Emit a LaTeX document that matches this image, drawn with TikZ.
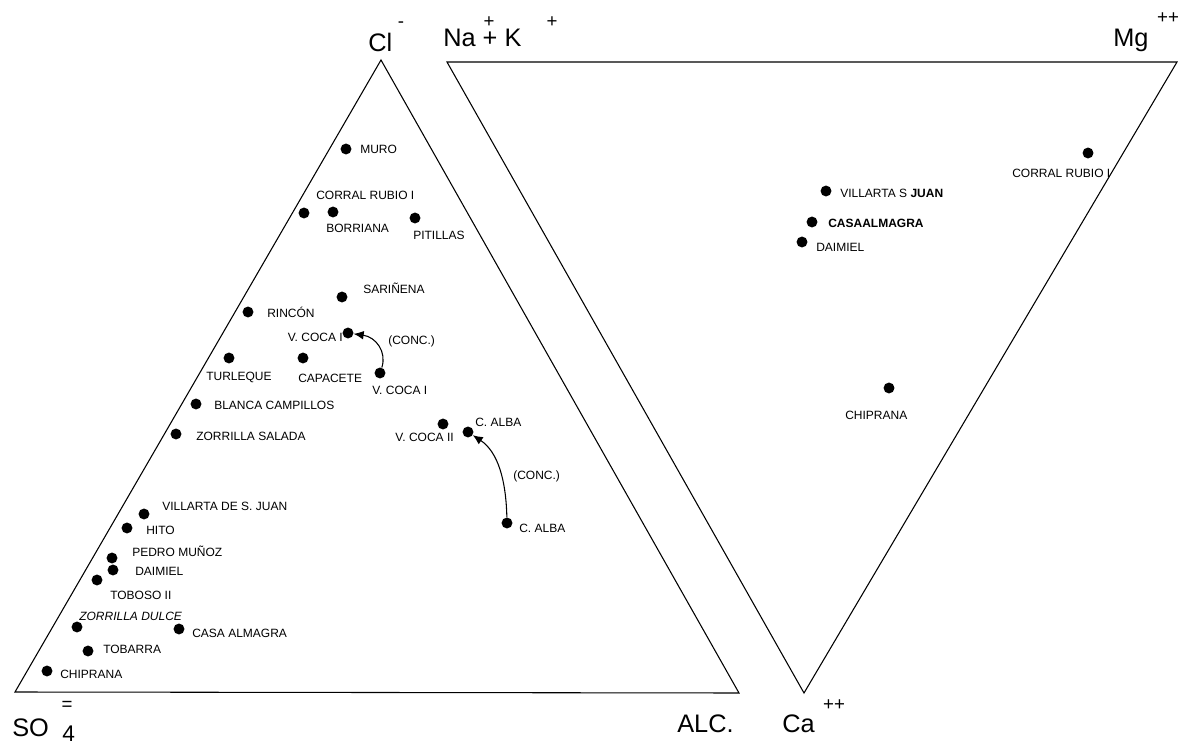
\documentclass[tikz,border=0pt]{standalone}
\usepackage{fontspec}
\setmainfont{Liberation Sans}
\usetikzlibrary{arrows.meta}
\begin{document}
\begin{tikzpicture}[x=0.75pt,y=-0.75pt,
  dot/.style={circle,fill=black,inner sep=0pt,minimum size=8.2pt},
  lab/.style={anchor=west,inner sep=0pt,font=\fontsize{9}{10}\selectfont},
  labe/.style={anchor=east,inner sep=0pt,font=\fontsize{9}{10}\selectfont},
  big/.style={anchor=base west,inner sep=0pt,font=\fontsize{19}{22}\selectfont},
  sup/.style={inner sep=0pt,font=\fontsize{14}{16}\selectfont},
  edge/.style={line width=0.8pt},
  conc/.style={line width=0.8pt,-{Latex[length=7.5pt,width=6.5pt]}}]
\useasboundingbox (0,0) rectangle (1182,741);
% triangles
\coordinate (A) at (381,60);
\coordinate (B) at (15,692);
\coordinate (C) at (739,693);
\draw[edge] (A) -- (B) -- (C) -- cycle;
\coordinate (D) at (447,62);
\coordinate (E) at (1177,62);
\coordinate (F) at (804,693);
\draw[edge] (D) -- (E) -- (F) -- cycle;
% vertex labels
\node[big] (lcl) at (368,52) {Cl};
\node[sup] (lclm) at (401,25) {-};
\node[big] (lnak) at (443,47) {Na + K};
\node[sup] (lnap) at (489,22) {+};
\node[sup] (lkp) at (552,22) {+};
\node[big] (lmg) at (1113,47) {Mg};
\node[sup] (lmgp) at (1168,18) {++};
\node[big] (lso) at (12,736) {SO};
\node[sup] (lsoeq) at (67,706) {=};
\node[big,font=\fontsize{17}{20}\selectfont] (lso4) at (62,741) {4};
\node[big] (lalc) at (677,732) {ALC.};
\node[big] (lca) at (782,732) {Ca};
\node[sup] (lcap) at (834,705) {++};
% left triangle points
\node[dot] (muro) at (346,149) {};
\node[dot] (cr1) at (304,213) {};
\node[dot] (borr) at (333,212) {};
\node[dot] (pit) at (415,218) {};
\node[dot] (sar) at (342,297) {};
\node[dot] (rin) at (248,312) {};
\node[dot] (vc1a) at (348,333) {};
\node[dot] (turl) at (229,358) {};
\node[dot] (capa) at (303,358) {};
\node[dot] (vc1b) at (380,373) {};
\node[dot] (blan) at (196,404) {};
\node[dot] (zsal) at (176,434) {};
\node[dot] (vc2) at (443,424) {};
\node[dot] (calba1) at (468,432) {};
\node[dot] (calba2) at (507,523) {};
\node[dot] (vill) at (144,514) {};
\node[dot] (hito) at (127,528) {};
\node[dot] (pedro) at (112,558) {};
\node[dot] (daim) at (113,570) {};
\node[dot] (tob) at (97,580) {};
\node[dot] (zdul) at (77,627) {};
\node[dot] (casa) at (179,629) {};
\node[dot] (tobar) at (88,651) {};
\node[dot] (chip) at (47,671) {};
% left labels
\node[lab] (tmuro) at (360,149) {MURO};
\node[lab] (tcr1) at (316,195) {CORRAL RUBIO I};
\node[lab] (tborr) at (326,228) {BORRIANA};
\node[lab] (tpit) at (413,235) {PITILLAS};
\node[lab] (tsar) at (363,288) {SARIÑENA};
\node[lab] (trin) at (267,312) {RINCÓN};
\node[labe] (tvc1a) at (343,337) {V. COCA I};
\node[lab] (tconc1) at (388,341) {(CONC.)};
\node[lab] (tturl) at (206,377) {TURLEQUE};
\node[lab] (tcapa) at (298,378) {CAPACETE};
\node[lab] (tvc1b) at (372,390) {V. COCA I};
\node[lab] (tblan) at (214,405) {BLANCA CAMPILLOS};
\node[lab] (tzsal) at (196,436) {ZORRILLA SALADA};
\node[labe] (tvc2) at (454,437) {V. COCA II};
\node[lab] (tcalba1) at (475,422) {C. ALBA};
\node[lab] (tconc2) at (513,476) {(CONC.)};
\node[lab] (tcalba2) at (519,528) {C. ALBA};
\node[lab] (tvill) at (162,506) {VILLARTA DE S. JUAN};
\node[lab] (thito) at (146,530) {HITO};
\node[lab] (tpedro) at (132,551) {PEDRO MUÑOZ};
\node[lab] (tdaim) at (135,571) {DAIMIEL};
\node[lab] (ttob) at (110,595) {TOBOSO II};
\node[lab,font=\fontsize{9}{10}\selectfont\itshape] (tzdul) at (79,616) {ZORRILLA DULCE};
\node[lab] (tcasa) at (192,633) {CASA ALMAGRA};
\node[lab] (ttobar) at (103,649) {TOBARRA};
\node[lab] (tchip) at (60,674) {CHIPRANA};
% concentration arrows
\draw[conc] (vc1b) .. controls (387,352) and (376,337) .. (vc1a);
\draw[conc] (calba2) .. controls (506,480) and (498,452) .. (calba1);
% right triangle points
\node[dot] (rcr) at (1088,153) {};
\node[dot] (rvsj) at (826,191) {};
\node[dot] (rcasa) at (812,222) {};
\node[dot] (rdaim) at (802,242) {};
\node[dot] (rchip) at (889,388) {};
\node[lab] (trcr) at (1012,173) {CORRAL RUBIO I};
\node[lab] (trvsj) at (840,193) {VILLARTA S \textbf{JUAN}};
\node[lab,font=\fontsize{9}{10}\selectfont\bfseries] (trcasa) at (828,223) {CASAALMAGRA};
\node[lab] (trdaim) at (816,247) {DAIMIEL};
\node[lab] (trchip) at (845,415) {CHIPRANA};
\end{tikzpicture}
\end{document}
